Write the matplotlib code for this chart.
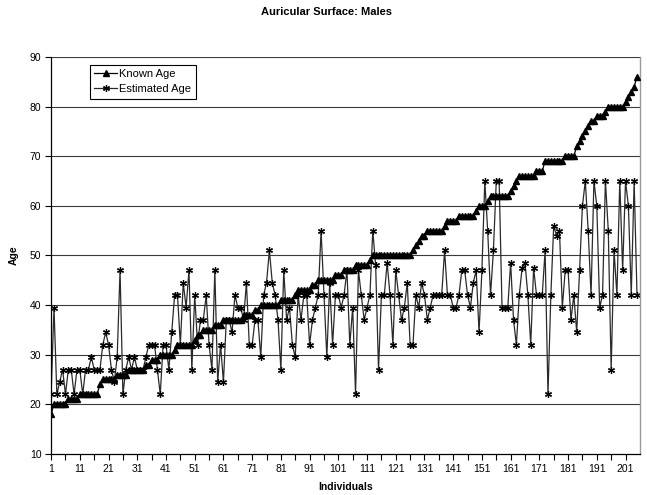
import numpy as np
import matplotlib
matplotlib.use("Agg")
import matplotlib.pyplot as plt
from matplotlib.ticker import FixedLocator

plt.rcParams['font.family'] = ['Liberation Sans', 'DejaVu Sans']

# values, one per individual (sorted by known age)
known_age = [
    18,
    20, 20, 20, 20, 20,
    21, 21, 21, 21,
    22, 22, 22, 22, 22, 22, 22,
    24,
    25, 25, 25, 25, 25,
    26, 26, 26, 26,
    27, 27, 27, 27, 27, 27,
    28, 28,
    29, 29, 29,
    30, 30, 30, 30, 30,
    31,
    32, 32, 32, 32, 32, 32,
    33,
    34, 34,
    35, 35, 35, 35,
    36, 36, 36,
    37, 37, 37, 37, 37, 37, 37,
    38, 38, 38, 38,
    39, 39,
    40, 40, 40, 40, 40, 40, 40,
    41, 41, 41, 41, 41,
    42,
    43, 43, 43, 43, 43,
    44, 44,
    45, 45, 45, 45, 45, 45,
    46, 46, 46,
    47, 47, 47, 47,
    48, 48, 48, 48, 48,
    49,
    50, 50, 50, 50, 50, 50, 50, 50, 50, 50, 50, 50, 50, 50,
    51, 52, 53,
    54, 54,
    55, 55, 55, 55, 55, 55,
    56,
    57, 57, 57, 57,
    58, 58, 58, 58, 58, 58,
    59,
    60, 60, 60,
    61,
    62, 62, 62, 62, 62, 62, 62,
    63, 64, 65,
    66, 66, 66, 66, 66, 66,
    67, 67, 67,
    69, 69, 69, 69, 69, 69, 69,
    70, 70, 70, 70,
    72, 73, 74, 75, 76,
    77, 77,
    78, 78, 78,
    79,
    80, 80, 80, 80, 80, 80,
    81, 82, 83, 84, 86,
]

estimated_age = [
    22, 39.5, 22, 24.5, 27, 22, 27, 27, 22, 27,
    27, 22, 27, 27, 29.5, 27, 27, 27, 32, 34.5,
    32, 27, 24.5, 29.5, 47, 22, 27, 29.5, 27, 29.5,
    27, 27, 27, 29.5, 32, 32, 32, 27, 22, 32,
    32, 27, 34.5, 42, 42, 32, 44.5, 39.5, 47, 27,
    42, 32, 37, 37, 42, 32, 27, 47, 24.5, 32,
    24.5, 37, 37, 34.5, 42, 39.5, 39.5, 37, 44.5, 32,
    32, 37, 37, 29.5, 42, 44.5, 51, 44.5, 42, 37,
    27, 47, 37, 39.5, 32, 29.5, 42, 37, 42, 42,
    32, 37, 39.5, 42, 55, 42, 29.5, 44.5, 32, 42,
    42, 39.5, 42, 47, 32, 39.5, 22, 47, 42, 37,
    39.5, 42, 55, 48, 27, 42, 42, 48.5, 42, 32,
    47, 42, 37, 39.5, 44.5, 32, 32, 42, 39.5, 44.5,
    42, 37, 39.5, 42, 42, 42, 42, 51, 42, 42,
    39.5, 39.5, 42, 47, 47, 42, 39.5, 44.5, 47, 34.5,
    47, 65, 55, 42, 51, 65, 65, 39.5, 39.5, 39.5,
    48.5, 37, 32, 42, 47.5, 48.5, 42, 32, 47.5, 42,
    42, 42, 51, 22, 42, 56, 54, 55, 39.5, 47,
    47, 37, 42, 34.5, 47, 60, 65, 55, 42, 65,
    60, 39.5, 42, 65, 55, 27, 51, 42, 65, 47,
    65, 60, 42, 65, 42,
]

individuals = np.arange(1, len(known_age) + 1)
x_labels = list(range(1, 202, 10))
y_ticks = list(range(10, 91, 10))

fig = plt.figure(figsize=(6.47, 4.95), dpi=100)
ax = fig.add_axes([0.079, 0.083, 0.910, 0.802])

for y in y_ticks[1:]:
    ax.axhline(y, color='#3a3a3a', lw=0.8, zorder=1)

ax.plot(individuals, known_age, color='black', lw=0.9, marker='^',
        markersize=4.5, markerfacecolor='black', markeredgecolor='black',
        label='Known Age', zorder=3)
ax.plot(individuals, estimated_age, color='#2a2a2a', lw=0.9, marker=(6, 2, 0),
        markersize=5, markeredgewidth=0.9, markeredgecolor='black',
        label='Estimated Age', zorder=2)

ax.set_xlim(1, 206)
ax.set_ylim(10, 90)
ax.xaxis.set_major_locator(FixedLocator(x_labels))
ax.xaxis.set_minor_locator(FixedLocator(list(range(6, 206, 10))))
ax.set_yticks(y_ticks)
ax.tick_params(axis='both', which='both', direction='out', labelsize=7.5,
               color='black', width=0.8)
ax.tick_params(axis='both', which='major', length=4)
ax.tick_params(axis='x', which='minor', length=4)
ax.tick_params(axis='x', pad=3)
ax.tick_params(axis='y', pad=3)

ax.spines['top'].set_visible(False)
ax.spines['right'].set_color('#9a9a9a')
ax.spines['right'].set_linewidth(1.0)
for s in ['left', 'bottom']:
    ax.spines[s].set_color('black')
    ax.spines[s].set_linewidth(0.9)

ax.set_xlabel('Individuals', fontsize=7.5, fontweight='bold', labelpad=6)
ax.set_ylabel('Age', fontsize=7.5, fontweight='bold', labelpad=8)
fig.suptitle('Auricular Surface: Males', fontsize=8, fontweight='bold',
             x=0.505, y=0.985)

leg = ax.legend(loc='upper left', bbox_to_anchor=(0.066, 0.98), fontsize=8,
                frameon=True, fancybox=False, framealpha=1, edgecolor='black',
                borderpad=0.4, handlelength=2.0, handletextpad=0.25,
                labelspacing=0.45, borderaxespad=0)
leg.get_frame().set_linewidth(0.8)

fig.savefig('out.png', dpi=100)
